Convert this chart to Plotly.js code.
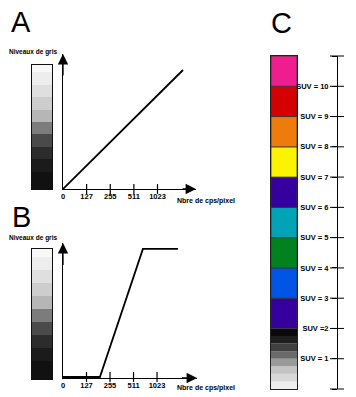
<!DOCTYPE html>
<html>
<head>
<meta charset="utf-8">
<script src="https://cdn.plot.ly/plotly-3.0.1.min.js"></script>
<style>html,body{margin:0;padding:0;background:#fff;}#chart{width:356px;height:397px;}</style>
</head>
<body>
<div id="chart"></div>
<script>
// ---- data ----
const xTickPos = [0, 1, 2, 3, 4];
const xTickLabels = ['0', '127', '255', '511', '1023'];
const lineA_x = [0, 5.08];
const lineA_y = [0, 255];
const lineB_x = [0, 1.57, 3.40, 4.89];
const lineB_y = [0, 0, 255, 255];
// grey scale bars (bottom to top)
const grayColors = ['#111111', '#1b1b1b', '#2c2c2c', '#4a4a4a', '#7c7c7c', '#b6b6b6', '#cdcdcd', '#dfdfdf', '#ededed', '#f8f8f8'];
const grayHeights = [1.4, 1, 1, 1, 1, 1, 1, 1, 1, 0.6];
// panel C colour scale (bottom to top)
const cColors = ['#eeeeee', '#d8d8d8', '#c4c4c4', '#9a9a9a', '#6a6a6a', '#404040', '#1e1e1e', '#0a0a0a',
                 '#35009e', '#0055e6', '#00821e', '#00a3b6', '#35009e', '#fcf300', '#ee7c0c', '#d50000', '#f01d8f'];
const cHeights = [0.25, 0.25, 0.25, 0.25, 0.25, 0.25, 0.25, 0.25, 1, 1, 1, 1, 1, 1, 1, 1, 1];
const cLineW = [0, 0, 0, 0, 0, 0, 0, 0, 0.8, 0.8, 0.8, 0.8, 0.8, 0.8, 0.8, 0.8, 0.8];
const suvValues = [0, 1, 2, 3, 4, 5, 6, 7, 8, 9, 10, 11];
const suvLabels = ['', 'SUV = 1', 'SUV =2', 'SUV = 3', 'SUV = 4', 'SUV = 5', 'SUV = 6', 'SUV = 7', 'SUV = 8', 'SUV = 9', 'SUV = 10', ''];

// ---- helpers ----
const W = 356, H = 397;
const px = v => v / W;
const py = v => (H - v) / H;
const cum = arr => { let s = 0; return arr.map(h => { const b = s; s += h; return b; }); };
const FONT = 'Liberation Sans, Arial, Helvetica, sans-serif';

const traces = [];
// line A
traces.push({x: lineA_x, y: lineA_y, xaxis: 'x', yaxis: 'y', mode: 'lines', line: {color: '#000', width: 1.8}, hoverinfo: 'skip'});
traces.push({x: xTickPos.slice(1), y: xTickPos.slice(1).map(() => 0), xaxis: 'x', yaxis: 'y', mode: 'markers', cliponaxis: false,
  marker: {symbol: 'line-ns', size: 7, line: {color: '#000', width: 1.2}}, hoverinfo: 'skip'});
// line B
traces.push({x: lineB_x, y: lineB_y, xaxis: 'x2', yaxis: 'y2', mode: 'lines', line: {color: '#000', width: 1.8}, hoverinfo: 'skip'});
traces.push({x: xTickPos.slice(1), y: xTickPos.slice(1).map(() => 0), xaxis: 'x2', yaxis: 'y2', mode: 'markers', cliponaxis: false,
  marker: {symbol: 'line-ns', size: 7, line: {color: '#000', width: 1.2}}, hoverinfo: 'skip'});
// grey bars
traces.push({type: 'bar', x: grayHeights.map(() => 0), y: grayHeights, base: cum(grayHeights), width: 1,
  marker: {color: grayColors, line: {width: 0}}, xaxis: 'x3', yaxis: 'y3', hoverinfo: 'skip'});
traces.push({type: 'bar', x: grayHeights.map(() => 0), y: grayHeights, base: cum(grayHeights), width: 1,
  marker: {color: grayColors, line: {width: 0}}, xaxis: 'x4', yaxis: 'y4', hoverinfo: 'skip'});
// colour bar C
traces.push({type: 'bar', x: cHeights.map(() => 0), y: cHeights, base: cum(cHeights), width: 1,
  marker: {color: cColors, line: {width: cLineW, color: '#333'}}, xaxis: 'x5', yaxis: 'y5', hoverinfo: 'skip'});
// SUV scale: crossing tick marks on the vertical scale line
traces.push({x: suvValues.map(() => 0), y: suvValues, xaxis: 'x6', yaxis: 'y5', mode: 'markers', cliponaxis: false,
  marker: {symbol: 'line-ew', size: 10, line: {color: '#000', width: 1}}, hoverinfo: 'skip'});
// dummy trace for SUV label axis
traces.push({x: [0], y: [0], xaxis: 'x5', yaxis: 'y6', mode: 'markers', marker: {opacity: 0}, hoverinfo: 'skip'});

const plainAx = {showgrid: false, zeroline: false, fixedrange: true};
const tickFont = {family: FONT, size: 7.5, color: 'black'};
const boldTicks = xTickLabels.map(t => '<b>' + t + '</b>');

const layout = {
  width: W, height: H, margin: {l: 0, r: 0, t: 0, b: 0},
  paper_bgcolor: '#fff', plot_bgcolor: 'rgba(0,0,0,0)',
  showlegend: false, barmode: 'overlay', bargap: 0,
  font: {family: FONT, color: '#000'},
  xaxis: Object.assign({}, plainAx, {domain: [px(63), px(196)], range: [0, 5.63], anchor: 'y',
    showline: true, linecolor: '#000', linewidth: 1.3, tickvals: xTickPos, ticktext: boldTicks, ticks: '', tickfont: tickFont}),
  yaxis: Object.assign({}, plainAx, {domain: [py(189), py(54)], range: [0, 289.3], anchor: 'x',
    showline: true, linecolor: '#000', linewidth: 1.3, showticklabels: false, ticks: ''}),
  xaxis2: Object.assign({}, plainAx, {domain: [px(63), px(197)], range: [0, 5.7], anchor: 'y2',
    showline: true, linecolor: '#000', linewidth: 1.3, tickvals: xTickPos, ticktext: boldTicks, ticks: '', tickfont: tickFont}),
  yaxis2: Object.assign({}, plainAx, {domain: [py(378), py(243)], range: [-2, 266.9], anchor: 'x2',
    showline: true, linecolor: '#000', linewidth: 1.3, showticklabels: false, ticks: ''}),
  xaxis3: Object.assign({}, plainAx, {domain: [px(32), px(52)], range: [-0.5, 0.5], anchor: 'y3',
    showline: true, mirror: true, linecolor: '#111', linewidth: 1, showticklabels: false, ticks: ''}),
  yaxis3: Object.assign({}, plainAx, {domain: [py(189), py(65)], range: [0, 10], anchor: 'x3',
    showline: true, mirror: true, linecolor: '#111', linewidth: 1, showticklabels: false, ticks: ''}),
  xaxis4: Object.assign({}, plainAx, {domain: [px(32), px(52)], range: [-0.5, 0.5], anchor: 'y4',
    showline: true, mirror: true, linecolor: '#111', linewidth: 1, showticklabels: false, ticks: ''}),
  yaxis4: Object.assign({}, plainAx, {domain: [py(379), py(249)], range: [0, 10], anchor: 'x4',
    showline: true, mirror: true, linecolor: '#111', linewidth: 1, showticklabels: false, ticks: ''}),
  xaxis5: Object.assign({}, plainAx, {domain: [px(271), px(297)], range: [-0.5, 0.5], anchor: 'y5',
    showline: true, mirror: true, linecolor: '#222', linewidth: 1.2, showticklabels: false, ticks: ''}),
  yaxis5: Object.assign({}, plainAx, {domain: [py(389), py(56)], range: [0, 11], anchor: 'x5',
    showline: true, mirror: true, linecolor: '#222', linewidth: 1.2, showticklabels: false, ticks: ''}),
  xaxis6: Object.assign({}, plainAx, {domain: [px(327), px(347)], range: [-1, 1], anchor: 'y5',
    visible: false}),
  yaxis6: Object.assign({}, plainAx, {overlaying: 'y5', anchor: 'free', position: px(337), side: 'left', range: [0, 11],
    showline: true, linecolor: '#000', linewidth: 1.2, tickvals: suvValues, ticktext: suvLabels, ticklabelstandoff: 2,
    ticks: 'outside', ticklen: 5, tickwidth: 1, tickcolor: '#000', tickfont: {family: FONT, size: 7.5, color: '#000000', weight: 'bold'}}),
  annotations: [
    // arrows
    {x: 0, y: 289.3, ax: 0, ay: 240, xref: 'x', yref: 'y', axref: 'x', ayref: 'y', text: '', showarrow: true, arrowhead: 2, arrowsize: 1.6, arrowwidth: 1.3, arrowcolor: '#000'},
    {x: 5.63, y: 0, ax: 5.0, ay: 0, xref: 'x', yref: 'y', axref: 'x', ayref: 'y', text: '', showarrow: true, arrowhead: 2, arrowsize: 1.6, arrowwidth: 1.3, arrowcolor: '#000'},
    {x: 0, y: 266.9, ax: 0, ay: 220, xref: 'x2', yref: 'y2', axref: 'x2', ayref: 'y2', text: '', showarrow: true, arrowhead: 2, arrowsize: 1.6, arrowwidth: 1.3, arrowcolor: '#000'},
    {x: 5.7, y: -2, ax: 5.0, ay: -2, xref: 'x2', yref: 'y2', axref: 'x2', ayref: 'y2', text: '', showarrow: true, arrowhead: 2, arrowsize: 1.6, arrowwidth: 1.3, arrowcolor: '#000'},
    // panel letters
    {x: px(9), y: py(22), xref: 'paper', yref: 'paper', xanchor: 'left', yanchor: 'middle', text: 'A', showarrow: false, font: {family: FONT, size: 29, color: '#000'}},
    {x: px(10), y: py(217), xref: 'paper', yref: 'paper', xanchor: 'left', yanchor: 'middle', text: 'B', showarrow: false, font: {family: FONT, size: 29, color: '#000'}},
    {x: px(269), y: py(23), xref: 'paper', yref: 'paper', xanchor: 'left', yanchor: 'middle', text: 'C', showarrow: false, font: {family: FONT, size: 29, color: '#000'}},
    // axis titles
    {x: px(7), y: py(52), xref: 'paper', yref: 'paper', xanchor: 'left', yanchor: 'middle', text: '<b>Niveaux de gris</b>', showarrow: false, font: {family: FONT, size: 6.5, color: '#000'}},
    {x: px(7), y: py(238), xref: 'paper', yref: 'paper', xanchor: 'left', yanchor: 'middle', text: '<b>Niveaux de gris</b>', showarrow: false, font: {family: FONT, size: 6.5, color: '#000'}},
    {x: px(175), y: py(201), xref: 'paper', yref: 'paper', xanchor: 'left', yanchor: 'middle', text: '<b>Nbre de cps/pixel</b>', showarrow: false, font: {family: FONT, size: 7, color: '#000'}},
    {x: px(175), y: py(388), xref: 'paper', yref: 'paper', xanchor: 'left', yanchor: 'middle', text: '<b>Nbre de cps/pixel</b>', showarrow: false, font: {family: FONT, size: 7, color: '#000'}}
  ]
};

Plotly.newPlot('chart', traces, layout, {staticPlot: true, displayModeBar: false});
</script>
</body>
</html>
